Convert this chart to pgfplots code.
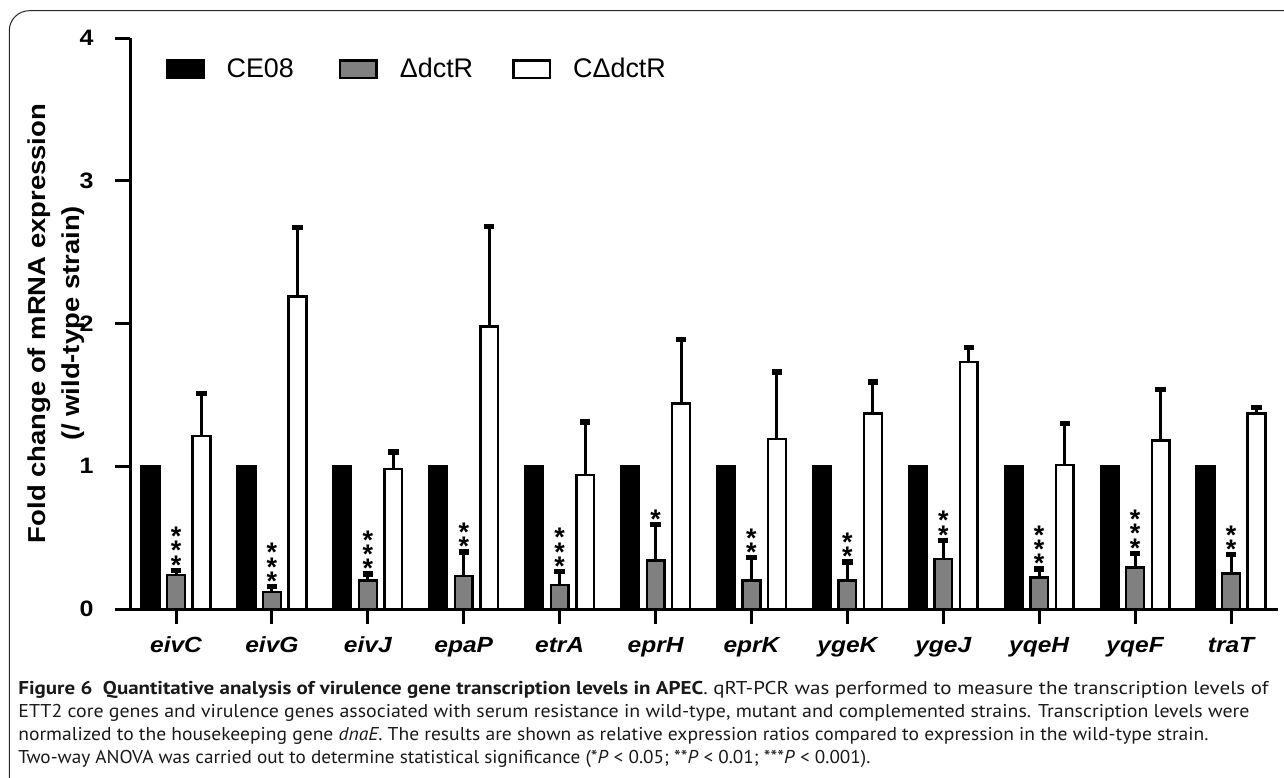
\documentclass[border=0pt]{standalone}
\usepackage{fontspec}
\setmainfont{Liberation Sans}
\newfontfamily\lbl[FakeStretch=1.12]{Liberation Sans}
\newfontfamily\capf{PT Sans}
\usepackage{graphicx}
\usepackage{pgfplots}
\pgfplotsset{compat=1.18}
\usepackage{pgfplotstable}
\definecolor{bargray}{RGB}{128,128,128}

\pgfplotstableread{
x  g    ge    w    we
0  0.24 0.030 1.21 0.30
1  0.12 0.035 2.19 0.48
2  0.20 0.045 0.98 0.12
3  0.23 0.170 1.98 0.70
4  0.17 0.090 0.94 0.37
5  0.34 0.250 1.44 0.45
6  0.20 0.160 1.19 0.47
7  0.20 0.130 1.37 0.22
8  0.35 0.130 1.73 0.10
9  0.22 0.060 1.01 0.29
10 0.29 0.100 1.18 0.36
11 0.25 0.130 1.37 0.04
}\datatable

\newcommand{\sone}{\vbox{\baselineskip=7.2bp\lineskiplimit=-100pt\hbox{*}}}
\newcommand{\stwo}{\vbox{\baselineskip=7.2bp\lineskiplimit=-100pt\hbox{*}\hbox{*}}}
\newcommand{\sthree}{\vbox{\baselineskip=7.2bp\lineskiplimit=-100pt\hbox{*}\hbox{*}\hbox{*}}}

\begin{document}
\begin{tikzpicture}
\useasboundingbox (0,0) rectangle (642bp,-389bp);
\begin{scope}
\clip (0,0) rectangle (642bp,-389bp);
\draw[line width=0.5bp, black!85] (650bp,-5.35bp) -- (14.65bp,-5.35bp) arc[start angle=90,end angle=180,radius=10bp] -- (4.65bp,-400bp);
\end{scope}
\begin{axis}[
  at={(65bp,-304.5bp)}, anchor=south west,
  scale only axis, width=574bp, height=285.5bp,
  xmin=-0.48, xmax=11.49, ymin=0, ymax=4,
  clip=false,
  axis x line*=bottom, axis y line*=left,
  axis line style={line width=1.5bp, black},
  tick align=outside, major tick length=7.5bp,
  tick style={line width=1.5bp, black},
  xtick={0,...,11},
  xticklabels={eivC,eivG,eivJ,epaP,etrA,eprH,eprK,ygeK,ygeJ,yqeH,yqeF,traT},
  ytick={0,1,2,3,4},
  /pgf/number format/assume math mode=true,
  xticklabel style={font=\lbl\bfseries\itshape\fontsize{11}{13}\selectfont, anchor=base, inner sep=0pt, yshift=-14bp},
  yticklabel style={font=\lbl\bfseries\fontsize{11.2}{13}\selectfont, anchor=east, inner sep=0pt, xshift=-10.5bp},
  ylabel={Fold change of mRNA expression\\(/ wild-type strain)},
  ylabel style={at={(axis description cs:-0.064,0.5)}, anchor=center, align=center,
     font=\lbl\bfseries\fontsize{12.3}{17}\selectfont},
  legend columns=3,
  legend style={at={(axis description cs:0.031,0.945)}, anchor=west, draw=none, fill=none,
     inner sep=0pt, outer sep=0pt, font=\fontsize{13.5}{16}\selectfont,
     nodes={inner sep=0pt}, column sep=0pt},
  legend image code/.code={\draw[#1,line width=1.2bp] (0bp,-4.4bp) rectangle (18.3bp,4.4bp);},
]
\addplot[ybar, bar width=0.185, bar shift=0, fill=black, draw=black, line width=1.2bp]
  table[x expr=\thisrow{x}-0.266, y expr=1] {\datatable};
\addlegendentry{\hspace{11bp}CE08\rule{22.5bp}{0pt}}
\addplot[ybar, bar width=0.185, bar shift=0, fill=bargray, draw=black, line width=1.2bp,
  error bars/.cd, y dir=plus, y explicit,
  error bar style={line width=1.5bp, black},
  error mark options={rotate=90, mark size=2.6bp, line width=2.6bp, black}]
  table[x=x, y=g, y error=ge] {\datatable};
\addlegendentry{\hspace{11bp}ΔdctR\rule{19.5bp}{0pt}}
\addplot[ybar, bar width=0.185, bar shift=0, fill=white, draw=black, line width=1.2bp,
  error bars/.cd, y dir=plus, y explicit,
  error bar style={line width=1.5bp, black},
  error mark options={rotate=90, mark size=2.6bp, line width=2.6bp, black}]
  table[x expr=\thisrow{x}+0.266, y=w, y error=we] {\datatable};
\addlegendentry{\hspace{11bp}CΔdctR}
\addplot[forget plot, draw=none, mark=none, nodes near coords, point meta=explicit symbolic,
  every node near coord/.append style={anchor=south, inner sep=0pt, text=black,
     font=\bfseries\fontsize{13.5}{16}\selectfont, yshift=-2.1bp}]
  coordinates {
  (0,0.27) [\sthree]
  (1,0.155) [\sthree]
  (2,0.245) [\sthree]
  (3,0.40) [\stwo]
  (4,0.26) [\sthree]
  (5,0.59) [\sone]
  (6,0.36) [\stwo]
  (7,0.33) [\stwo]
  (8,0.48) [\stwo]
  (9,0.28) [\sthree]
  (10,0.39) [\sthree]
  (11,0.38) [\stwo]
  };
\end{axis}
\begin{scope}[every node/.style={anchor=base west, inner sep=0pt, text=black!90, font=\capf\fontsize{9.3}{11}\selectfont}]
\node at (9bp,-347bp) {\resizebox{625bp}{\height}{\textbf{Figure 6\enspace Quantitative analysis of virulence gene transcription levels in APEC}. qRT-PCR was performed to measure the transcription levels of}};
\node at (9bp,-358.5bp) {\resizebox{615.5bp}{\height}{ETT2 core genes and virulence genes associated with serum resistance in wild-type, mutant and complemented strains. Transcription levels were}};
\node at (9bp,-370bp) {\resizebox{595bp}{\height}{normalized to the housekeeping gene \textit{dnaE}. The results are shown as relative expression ratios compared to expression in the wild-type strain.}};
\node at (9bp,-381.5bp) {\resizebox{426bp}{\height}{Two-way ANOVA was carried out to determine statistical significance (*\textit{P} < 0.05; **\textit{P} < 0.01; ***\textit{P} < 0.001).}};
\end{scope}
\end{tikzpicture}
\end{document}
